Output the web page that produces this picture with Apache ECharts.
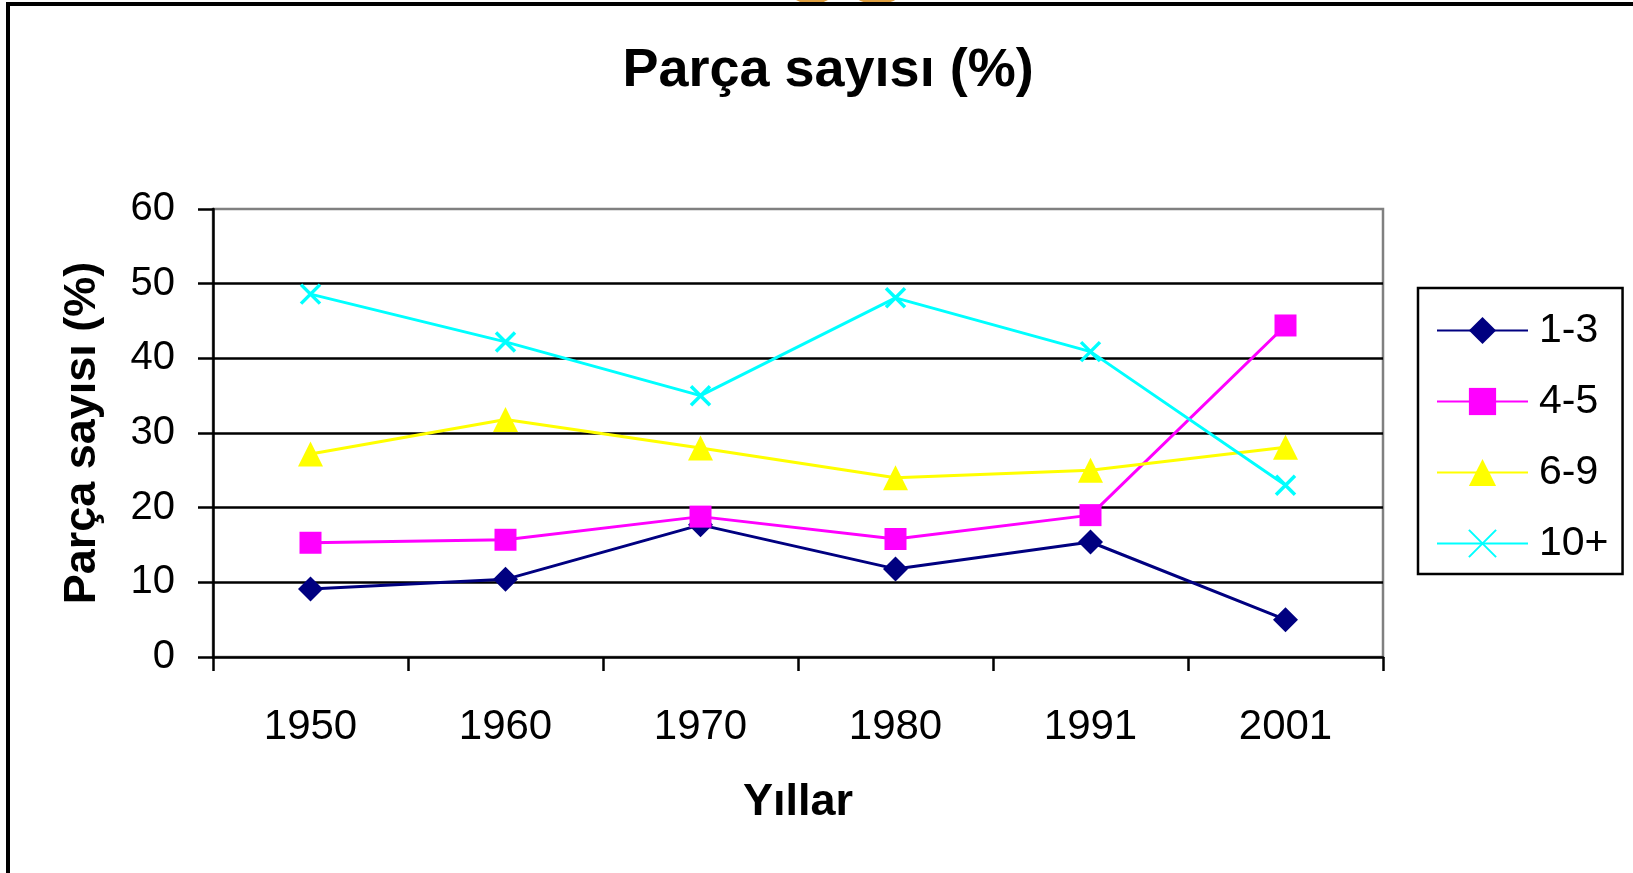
<!DOCTYPE html>
<html>
<head>
<meta charset="utf-8">
<title>Parça sayısı</title>
<script src="https://cdn.jsdelivr.net/npm/echarts@6/dist/echarts.min.js"></script>
<style>
  html, body { margin: 0; padding: 0; background: #fff; }
  #chart { width: 1633px; height: 873px; }
</style>
</head>
<body>
<div id="chart"></div>
<script>
// veriler
var years = ["1950", "1960", "1970", "1980", "1991", "2001"];
var yTicks = [0, 10, 20, 30, 40, 50, 60];
var s13 = [9.1, 10.4, 17.7, 11.8, 15.4, 5.0];
var s45 = [15.3, 15.7, 18.8, 15.8, 19.0, 44.4];
var s69 = [27.2, 31.8, 28.0, 24.0, 25.0, 28.1];
var s10 = [48.6, 42.2, 35.0, 48.1, 40.9, 23.0];

var chart = echarts.init(document.getElementById("chart"));
var font = "Liberation Sans, Arial, sans-serif";

function lineSeries(name, data, color, symbol, size, extra) {
  var s = {
    name: name,
    type: "line",
    data: data,
    symbol: symbol,
    symbolSize: size,
    showAllSymbol: true,
    lineStyle: { color: color, width: 3 },
    itemStyle: { color: color, opacity: 1 },
    emphasis: { disabled: true },
    animation: false,
    z: 3,
  };
  if (extra) s.itemStyle = extra;
  return s;
}

var option = {
  backgroundColor: "#fff",
  animation: false,
  title: {
    text: "Parça sayısı (%)",
    left: 823,
    textAlign: "center",
    top: 39,
    textStyle: { fontFamily: font, fontSize: 54, fontWeight: "bold", color: "#000" },
  },
  legend: {
    orient: "vertical",
    left: 1418,
    top: 288,
    padding: [22, 14, 10, 18],
    itemGap: 30,
    itemWidth: 91,
    itemHeight: 34,
    backgroundColor: "#fff",
    borderColor: "#000",
    borderWidth: 2.5,
    borderRadius: 0,
    textStyle: { fontFamily: font, fontSize: 41, color: "#000", padding: [0, 0, 0, 6] },
    data: ["1-3", "4-5", "6-9", "10+"],
  },
  grid: {
    left: 213,
    right: 250,
    top: 209,
    bottom: 216,
    show: true,
    borderColor: "#808080",
    borderWidth: 2.5,
    backgroundColor: "#fff",
  },
  xAxis: {
    type: "category",
    data: years,
    boundaryGap: true,
    name: "Yıllar",
    nameLocation: "middle",
    nameGap: 123,
    nameTextStyle: { fontFamily: font, fontSize: 45, fontWeight: "bold", color: "#000" },
    axisLine: { lineStyle: { color: "#000", width: 2.5 } },
    axisTick: { show: true, length: 14, lineStyle: { color: "#000", width: 2.5 } },
    axisLabel: { fontFamily: font, fontSize: 42, color: "#000", margin: 49 },
    splitLine: { show: false },
  },
  yAxis: {
    type: "value",
    min: yTicks[0],
    max: yTicks[yTicks.length - 1],
    interval: 10,
    name: "Parça sayısı (%)",
    nameLocation: "middle",
    nameGap: 108,
    nameTextStyle: { fontFamily: font, fontSize: 45, fontWeight: "bold", color: "#000" },
    axisLine: { show: true, lineStyle: { color: "#000", width: 2.5 } },
    axisTick: { show: true, length: 15, lineStyle: { color: "#000", width: 2.5 } },
    axisLabel: { fontFamily: font, fontSize: 40, color: "#000", margin: 38 },
    splitLine: { show: true, showMinLine: false, showMaxLine: false, lineStyle: { color: "#000", width: 2.5 } },
  },
  graphic: [
    {
      type: "rect",
      shape: { x: 8, y: 4, width: 1700, height: 1000 },
      style: { fill: null, stroke: "#000", lineWidth: 4 },
      silent: true,
      z: 100,
    },
    {
      type: "ellipse",
      shape: { cx: 812, cy: -8, rx: 19, ry: 10 },
      style: { fill: null, stroke: "#E0A040", lineWidth: 4 },
      silent: true,
      z: 99,
    },
    {
      type: "ellipse",
      shape: { cx: 877, cy: -8, rx: 22, ry: 10 },
      style: { fill: null, stroke: "#E0A040", lineWidth: 4 },
      silent: true,
      z: 99,
    },
  ],
  series: [
    lineSeries("1-3", s13, "#000080", "diamond", 25),
    lineSeries("4-5", s45, "#FF00FF", "rect", 22),
    lineSeries("6-9", s69, "#FFFF00", "triangle", 25),
    lineSeries("10+", s10, "#00FFFF", "path://M0,0L10,10M10,0L0,10", 19, {
      color: "#00FFFF",
      borderColor: "#00FFFF",
      borderWidth: 3.5,
      opacity: 1,
    }),
  ],
};

chart.setOption(option);
</script>
</body>
</html>
